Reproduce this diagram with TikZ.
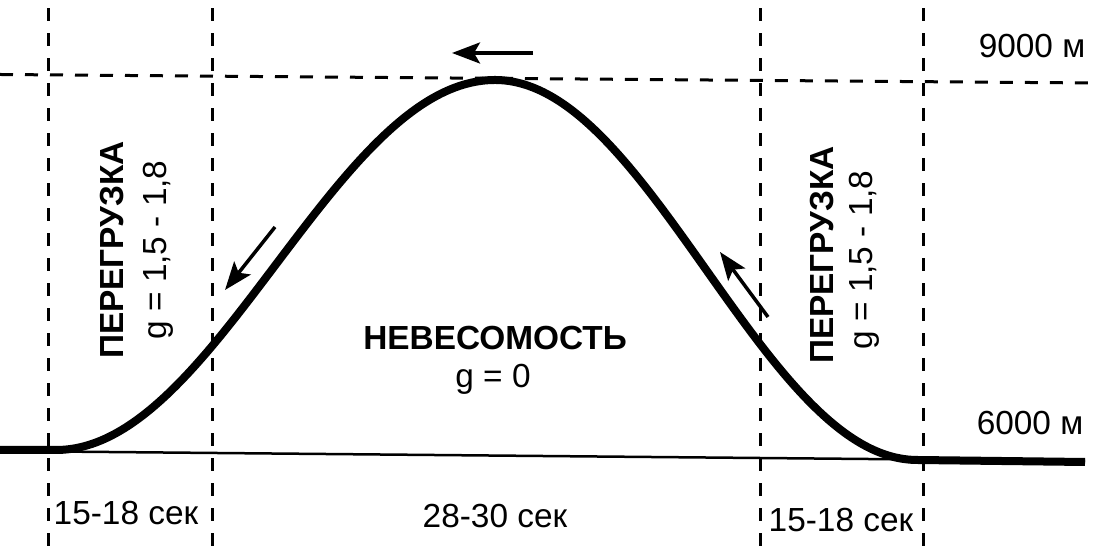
\documentclass[tikz,border=0pt]{standalone}
\usepackage{fontspec}
\setmainfont{Liberation Sans}
\usetikzlibrary{arrows.meta}

\begin{document}
\begin{tikzpicture}[
    grid line/.style = {line width = 0.06cm, dash pattern = on 0.26cm off 0.24cm},
    flight/.style = {line width = 0.16cm, line join = round},
    motion/.style = {line width = 0.07cm,
      -{Stealth[length = 0.56cm, width = 0.42cm, inset = 0.12cm]}},
    label/.style = {font = \fontsize{19}{23}\selectfont, inner sep = 0pt},
    bold label/.style = {font = \fontsize{19}{23}\selectfont\bfseries, inner sep = 0pt},
  ]
  \useasboundingbox (0, 0) rectangle (21.86, 10.92);

  \draw[grid line] (0.96, 0) -- (0.96, 10.92);
  \draw[grid line] (4.24, 0) -- (4.24, 10.92);
  \draw[grid line] (15.2, 0) -- (15.2, 10.92);
  \draw[grid line] (18.46, 0) -- (18.46, 10.92);
  \draw[grid line] (0, 9.43) -- (21.86, 9.26);
  \draw[line width = 0.05cm] (0, 1.90) -- (21.7, 1.70);

  \draw[flight, variable = \x, samples = 200]
    (0, 1.92)
     -- plot[domain = 1.12 : 9.9] ({\x}, {1.92 + 3.7 * (1 + cos(20.5 * (\x - 9.9)))})
     -- plot[domain = 9.9 : 18.35] ({\x}, {1.72 + 3.8 * (1 + cos(21.3 * (\x - 9.9)))})
     -- (21.7, 1.68);

  \coordinate (top tail) at (10.66, 9.86);
  \coordinate (top tip) at (9.04, 9.86);
  \coordinate (down tail) at (5.5, 6.38);
  \coordinate (down tip) at (4.5, 5.12);
  \coordinate (up tail) at (15.36, 4.58);
  \coordinate (up tip) at (14.4, 5.88);
  \draw[motion] (top tail) -- (top tip);
  \draw[motion] (down tail) -- (down tip);
  \draw[motion] (up tail) -- (up tip);

  \node[label, anchor = base] (h high) at (20.64, 9.76) {9000 м};
  \node[label, anchor = base] (h low) at (20.6, 2.22) {6000 м};

  \node[bold label, rotate = 90] (load left) at (2.24, 5.92) {ПЕРЕГРУЗКА};
  \node[label, rotate = 90] (g left) at (3.16, 5.92) {g = 1,5 - 1,8};
  \node[bold label, rotate = 90] (load right) at (16.44, 5.82) {ПЕРЕГРУЗКА};
  \node[label, rotate = 90] (g right) at (17.28, 5.72) {g = 1,5 - 1,8};

  \node[bold label, anchor = base] (zero load) at (9.9, 3.92) {НЕВЕСОМОСТЬ};
  \node[label, anchor = base] (g zero) at (9.86, 3.16) {g = 0};

  \node[label, anchor = base] (t left) at (2.52, 0.42) {15-18 сек};
  \node[label, anchor = base] (t mid) at (9.9, 0.36) {28-30 сек};
  \node[label, anchor = base] (t right) at (16.82, 0.28) {15-18 сек};
\end{tikzpicture}
\end{document}
